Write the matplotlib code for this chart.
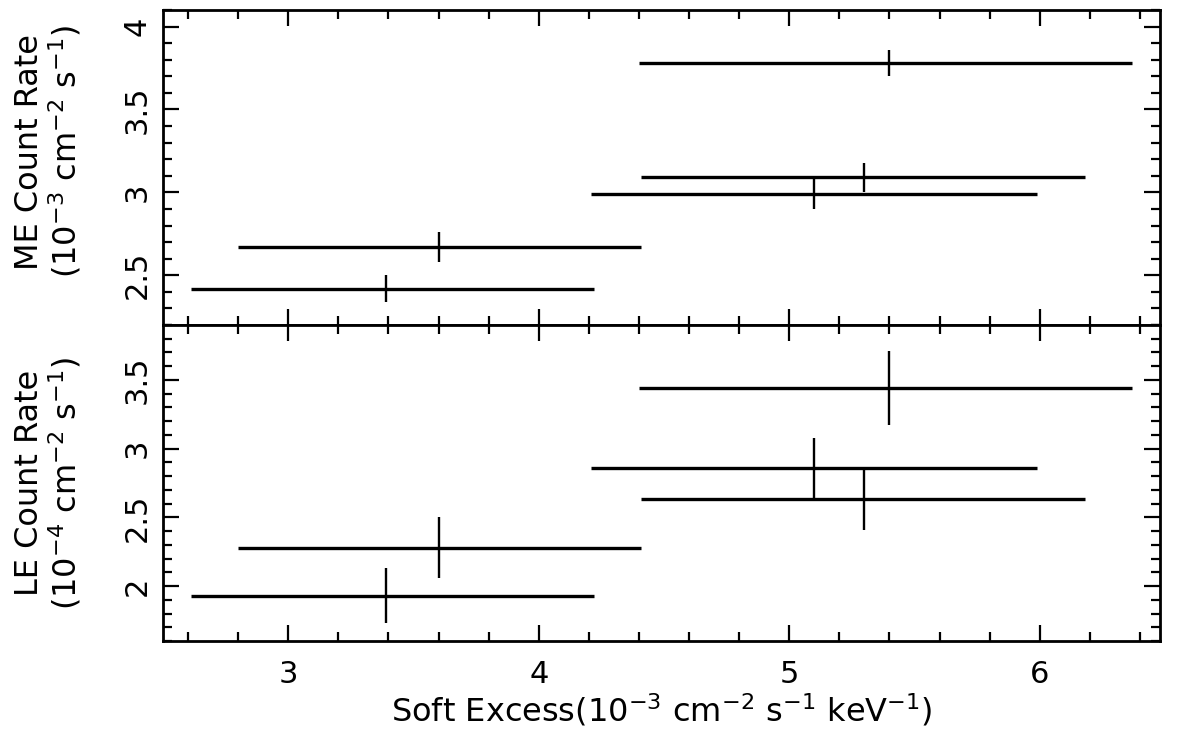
import matplotlib
matplotlib.use("Agg")
import matplotlib.pyplot as plt
from matplotlib.ticker import MultipleLocator
import numpy as np

# Soft excess (x) with asymmetric extents
soft_excess = [3.39, 3.60, 5.10, 5.30, 5.40]
soft_lo = [2.61, 2.80, 4.21, 4.41, 4.40]
soft_hi = [4.22, 4.41, 5.99, 6.18, 6.37]

# ME count rate (10^-3 cm^-2 s^-1)
me_rate = [2.42, 2.67, 2.99, 3.09, 3.78]
me_err = [0.08, 0.09, 0.09, 0.09, 0.08]

# LE count rate (10^-4 cm^-2 s^-1)
le_rate = [1.93, 2.28, 2.86, 2.63, 3.44]
le_err = [0.20, 0.22, 0.22, 0.22, 0.27]

xticks = [3, 4, 5, 6]
me_ticks = [2.5, 3, 3.5, 4]
le_ticks = [2, 2.5, 3, 3.5]

plt.rcParams['font.family'] = ['DejaVu Sans']
plt.rcParams['mathtext.default'] = 'regular'

fig = plt.figure(figsize=(11.77, 7.41), dpi=100)
L, R, T, B = 163/1177, 1160/1177, 1 - 10/741, 1 - 641/741
mid = 1 - 325/741
ax1 = fig.add_axes([L, mid, R - L, T - mid])
ax2 = fig.add_axes([L, B, R - L, mid - B], sharex=ax1)

x = np.array(soft_excess)
xerr = [x - np.array(soft_lo), np.array(soft_hi) - x]

for ax, y, ye, ticks, lim in [
    (ax1, me_rate, me_err, me_ticks, (2.2, 4.1)),
    (ax2, le_rate, le_err, le_ticks, (1.6, 3.9)),
]:
    ax.errorbar(x, y, xerr=xerr, fmt='none', ecolor='black', elinewidth=2.4, capsize=0)
    ax.errorbar(x, y, yerr=ye, fmt='none', ecolor='black', elinewidth=1.7, capsize=0)
    ax.set_ylim(*lim)
    ax.set_yticks(ticks)
    ax.set_yticklabels([f"{t:g}" for t in ticks])
    ax.yaxis.set_minor_locator(MultipleLocator(0.1))
    ax.xaxis.set_minor_locator(MultipleLocator(0.2))
    ax.tick_params(which='both', direction='in', top=True, right=True, width=1.6)
    ax.tick_params(which='major', length=11.5)
    ax.tick_params(which='minor', length=6.5)
    ax.tick_params(axis='y', labelrotation=90, labelsize=22, pad=8)
    for lbl in ax.get_yticklabels():
        lbl.set_verticalalignment('center')
    for s in ax.spines.values():
        s.set_linewidth(2.0)

ax1.set_xlim(2.5, 6.48)
ax1.set_xticks(xticks)
ax1.tick_params(axis='x', labelbottom=False)
ax2.tick_params(axis='x', labelsize=22, pad=14)
ax2.set_xticklabels([str(t) for t in xticks])

ax1.set_ylabel("ME Count Rate\n$(10^{-3}$ cm$^{-2}$ s$^{-1})$", fontsize=23, linespacing=1.05)
ax2.set_ylabel("LE Count Rate\n$(10^{-4}$ cm$^{-2}$ s$^{-1})$", fontsize=23, linespacing=1.05)
ax1.yaxis.set_label_coords(-0.08, 0.55)
ax2.yaxis.set_label_coords(-0.08, 0.5)
ax2.set_xlabel("Soft Excess$(10^{-3}$ cm$^{-2}$ s$^{-1}$ keV$^{-1})$", fontsize=23, labelpad=2)

fig.savefig("out.png", dpi=100)
